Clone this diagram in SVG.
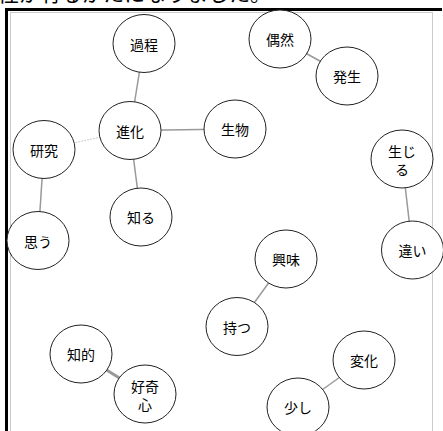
<svg xmlns="http://www.w3.org/2000/svg" width="443" height="431" viewBox="0 0 443 431">
<style>
.n ellipse{fill:#fff;stroke:#222;stroke-width:1}
.n text{font-family:"Noto Sans CJK JP","Noto Sans",sans-serif;font-size:14px;fill:#000;text-anchor:middle;dominant-baseline:central}
.e line{stroke:#999;stroke-width:1.5}
.title{font-family:"Noto Sans CJK JP",sans-serif;font-size:21px;fill:#000}
</style>
<rect width="443" height="431" fill="#fff"/>
<text class="title" x="-2" y="1">性が有るがたになりました。</text>
<rect x="10.5" y="12.5" width="422" height="430" fill="none" stroke="#ccc" stroke-width="1"/>
<polyline points="6.5,431 6.5,9.5 442,9.5" fill="none" stroke="#000" stroke-width="3"/>
<g id="connectors" class="e">
<line x1="144" y1="43.5" x2="130" y2="130.5"/>
<line x1="130" y1="130.5" x2="235" y2="129"/>
<line x1="130" y1="130.5" x2="141" y2="217"/>
<line x1="130" y1="130.5" x2="44" y2="149.5" style="stroke:#ccc;stroke-width:1;stroke-dasharray:2,1"/>
<line x1="44" y1="149.5" x2="38" y2="240.5"/>
<line x1="280" y1="39" x2="347" y2="76"/>
<line x1="402" y1="159" x2="412.5" y2="250"/>
<line x1="286" y1="259" x2="237" y2="326.5"/>
<line x1="364" y1="360" x2="298" y2="407"/>
<line x1="81" y1="354" x2="145" y2="394" style="stroke-width:3"/>
</g>
<g id="n-katei" class="n"><ellipse cx="144" cy="43.5" rx="31" ry="29"/><text x="144" y="43.5">過程</text></g>
<g id="n-shinka" class="n"><ellipse cx="130" cy="130.5" rx="31" ry="29"/><text x="130" y="130.5">進化</text></g>
<g id="n-seibutsu" class="n"><ellipse cx="235" cy="129" rx="31" ry="29"/><text x="235" y="129">生物</text></g>
<g id="n-kenkyu" class="n"><ellipse cx="44" cy="149.5" rx="31" ry="29"/><text x="44" y="149.5">研究</text></g>
<g id="n-shiru" class="n"><ellipse cx="141" cy="217" rx="31" ry="29"/><text x="141" y="217">知る</text></g>
<g id="n-omou" class="n"><ellipse cx="38" cy="240.5" rx="31" ry="29"/><text x="38" y="240.5">思う</text></g>
<g id="n-guzen" class="n"><ellipse cx="280" cy="39" rx="31" ry="29"/><text x="280" y="39">偶然</text></g>
<g id="n-hassei" class="n"><ellipse cx="347" cy="76" rx="31" ry="29"/><text x="347" y="76">発生</text></g>
<g id="n-shoujiru" class="n"><ellipse cx="402" cy="159" rx="31" ry="29"/><text x="402" y="151"><tspan x="402" y="151">生じ</tspan><tspan x="402" y="169">る</tspan></text></g>
<g id="n-chigai" class="n"><ellipse cx="412.5" cy="250" rx="31" ry="29"/><text x="412.5" y="250">違い</text></g>
<g id="n-kyoumi" class="n"><ellipse cx="286" cy="259" rx="31" ry="29"/><text x="286" y="259">興味</text></g>
<g id="n-motsu" class="n"><ellipse cx="237" cy="326.5" rx="31" ry="29"/><text x="237" y="326.5">持つ</text></g>
<g id="n-henka" class="n"><ellipse cx="364" cy="360" rx="31" ry="29"/><text x="364" y="360">変化</text></g>
<g id="n-sukoshi" class="n"><ellipse cx="298" cy="407" rx="31" ry="29"/><text x="298" y="407">少し</text></g>
<g id="n-chiteki" class="n"><ellipse cx="81" cy="354" rx="31" ry="29"/><text x="81" y="354">知的</text></g>
<g id="n-koukishin" class="n"><ellipse cx="145" cy="394" rx="31" ry="29"/><text x="145" y="385.5"><tspan x="145" y="385.5">好奇</tspan><tspan x="145" y="403.5">心</tspan></text></g>
</svg>
